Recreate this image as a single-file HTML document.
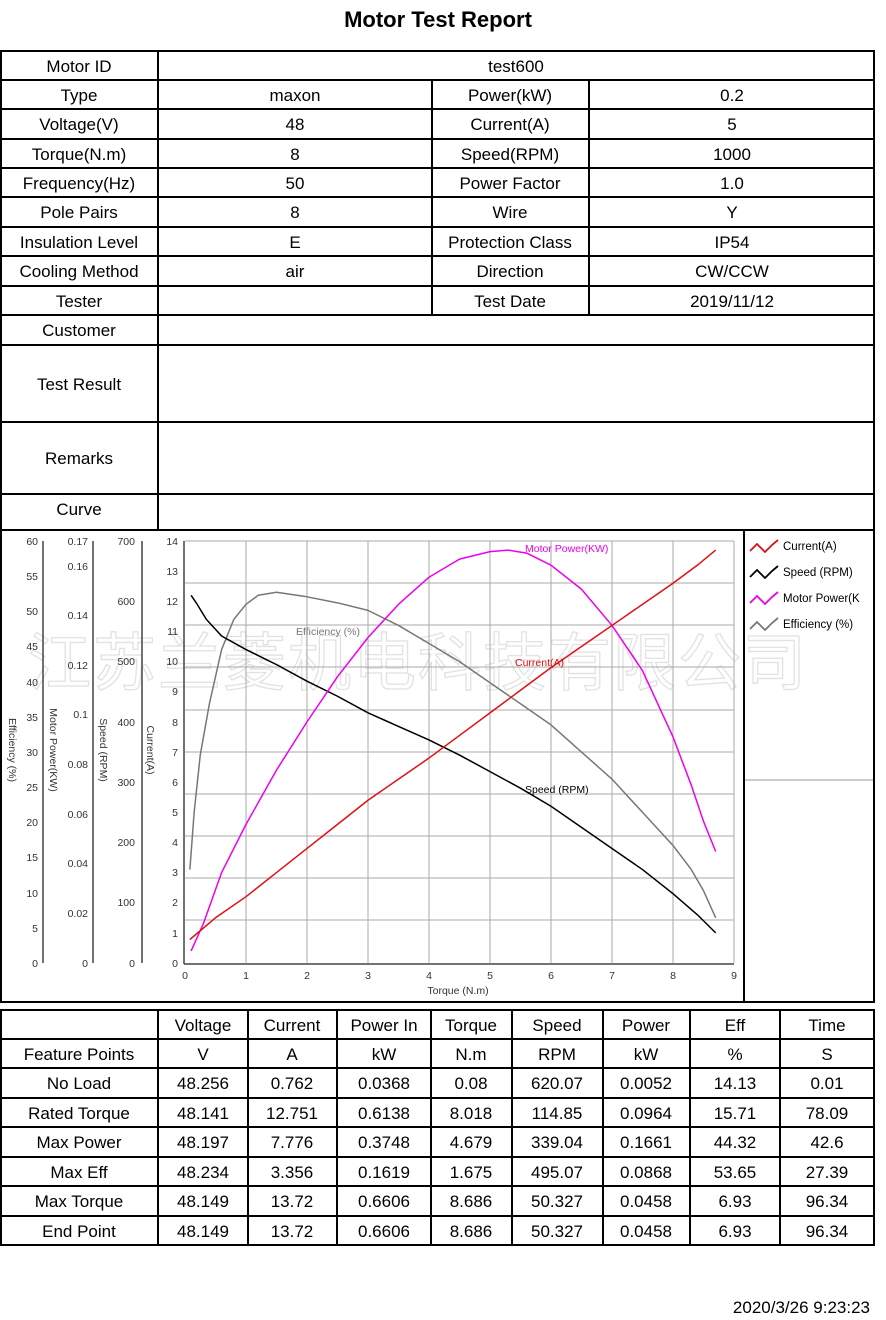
<!DOCTYPE html>
<html><head><meta charset="utf-8"><style>
body{margin:0;width:886px;height:1320px;background:#fff;font-family:"Liberation Sans",sans-serif;position:relative;overflow:hidden}
.t{position:absolute;font-size:17px;color:#000;text-align:center;line-height:1}
</style></head><body>
<div class="t" style="left:0;width:876px;top:9px;font-size:22px;font-weight:bold">Motor Test Report</div>
<svg width="886" height="1320" style="position:absolute;left:0;top:0" font-family="Liberation Sans, sans-serif">
<g stroke="#000" stroke-width="2" fill="none">
<rect x="1" y="51" width="873" height="951"/>
<line x1="0" y1="80" x2="875" y2="80"/><line x1="0" y1="109" x2="875" y2="109"/><line x1="0" y1="139" x2="875" y2="139"/><line x1="0" y1="168" x2="875" y2="168"/><line x1="0" y1="197" x2="875" y2="197"/><line x1="0" y1="227" x2="875" y2="227"/><line x1="0" y1="256" x2="875" y2="256"/><line x1="0" y1="286" x2="875" y2="286"/><line x1="0" y1="315" x2="875" y2="315"/><line x1="0" y1="345" x2="875" y2="345"/><line x1="0" y1="422" x2="875" y2="422"/><line x1="0" y1="494" x2="875" y2="494"/><line x1="0" y1="530" x2="875" y2="530"/>
<line x1="158" y1="51" x2="158" y2="530"/><line x1="432" y1="80" x2="432" y2="315"/><line x1="589" y1="80" x2="589" y2="315"/>
<line x1="744" y1="530" x2="744" y2="1002"/>
<rect x="1" y="1010" width="873" height="235"/>
<line x1="0" y1="1039" x2="875" y2="1039"/><line x1="0" y1="1068" x2="875" y2="1068"/><line x1="0" y1="1098" x2="875" y2="1098"/><line x1="0" y1="1127" x2="875" y2="1127"/><line x1="0" y1="1157" x2="875" y2="1157"/><line x1="0" y1="1186" x2="875" y2="1186"/><line x1="0" y1="1216" x2="875" y2="1216"/>
<line x1="158" y1="1010" x2="158" y2="1245"/><line x1="248" y1="1010" x2="248" y2="1245"/><line x1="337" y1="1010" x2="337" y2="1245"/><line x1="431" y1="1010" x2="431" y2="1245"/><line x1="512" y1="1010" x2="512" y2="1245"/><line x1="603" y1="1010" x2="603" y2="1245"/><line x1="690" y1="1010" x2="690" y2="1245"/><line x1="780" y1="1010" x2="780" y2="1245"/>
</g>
<line x1="745" y1="780" x2="874" y2="780" stroke="#999" stroke-width="1"/>
<g font-size="17" text-anchor="middle" fill="#000">
<text x="79" y="72">Motor ID</text><text x="516" y="72">test600</text>
<text x="79" y="101">Type</text><text x="295" y="101">maxon</text><text x="510" y="101">Power(kW)</text><text x="732" y="101">0.2</text>
<text x="79" y="130">Voltage(V)</text><text x="295" y="130">48</text><text x="510" y="130">Current(A)</text><text x="732" y="130">5</text>
<text x="79" y="160">Torque(N.m)</text><text x="295" y="160">8</text><text x="510" y="160">Speed(RPM)</text><text x="732" y="160">1000</text>
<text x="79" y="189">Frequency(Hz)</text><text x="295" y="189">50</text><text x="510" y="189">Power Factor</text><text x="732" y="189">1.0</text>
<text x="79" y="218">Pole Pairs</text><text x="295" y="218">8</text><text x="510" y="218">Wire</text><text x="732" y="218">Y</text>
<text x="79" y="248">Insulation Level</text><text x="295" y="248">E</text><text x="510" y="248">Protection Class</text><text x="732" y="248">IP54</text>
<text x="79" y="277">Cooling Method</text><text x="295" y="277">air</text><text x="510" y="277">Direction</text><text x="732" y="277">CW/CCW</text>
<text x="79" y="307">Tester</text><text x="510" y="307">Test Date</text><text x="732" y="307">2019/11/12</text>
<text x="79" y="336">Customer</text>
<text x="79" y="390">Test Result</text>
<text x="79" y="464">Remarks</text>
<text x="79" y="515">Curve</text>
<text x="203" y="1031">Voltage</text><text x="292" y="1031">Current</text><text x="384" y="1031">Power In</text><text x="471" y="1031">Torque</text><text x="557" y="1031">Speed</text><text x="646" y="1031">Power</text><text x="735" y="1031">Eff</text><text x="827" y="1031">Time</text>
<text x="79" y="1060">Feature Points</text><text x="203" y="1060">V</text><text x="292" y="1060">A</text><text x="384" y="1060">kW</text><text x="471" y="1060">N.m</text><text x="557" y="1060">RPM</text><text x="646" y="1060">kW</text><text x="735" y="1060">%</text><text x="827" y="1060">S</text>
<text x="79" y="1089">No Load</text><text x="203" y="1089">48.256</text><text x="292" y="1089">0.762</text><text x="384" y="1089">0.0368</text><text x="471" y="1089">0.08</text><text x="557" y="1089">620.07</text><text x="646" y="1089">0.0052</text><text x="735" y="1089">14.13</text><text x="827" y="1089">0.01</text>
<text x="79" y="1119">Rated Torque</text><text x="203" y="1119">48.141</text><text x="292" y="1119">12.751</text><text x="384" y="1119">0.6138</text><text x="471" y="1119">8.018</text><text x="557" y="1119">114.85</text><text x="646" y="1119">0.0964</text><text x="735" y="1119">15.71</text><text x="827" y="1119">78.09</text>
<text x="79" y="1148">Max Power</text><text x="203" y="1148">48.197</text><text x="292" y="1148">7.776</text><text x="384" y="1148">0.3748</text><text x="471" y="1148">4.679</text><text x="557" y="1148">339.04</text><text x="646" y="1148">0.1661</text><text x="735" y="1148">44.32</text><text x="827" y="1148">42.6</text>
<text x="79" y="1178">Max Eff</text><text x="203" y="1178">48.234</text><text x="292" y="1178">3.356</text><text x="384" y="1178">0.1619</text><text x="471" y="1178">1.675</text><text x="557" y="1178">495.07</text><text x="646" y="1178">0.0868</text><text x="735" y="1178">53.65</text><text x="827" y="1178">27.39</text>
<text x="79" y="1207">Max Torque</text><text x="203" y="1207">48.149</text><text x="292" y="1207">13.72</text><text x="384" y="1207">0.6606</text><text x="471" y="1207">8.686</text><text x="557" y="1207">50.327</text><text x="646" y="1207">0.0458</text><text x="735" y="1207">6.93</text><text x="827" y="1207">96.34</text>
<text x="79" y="1237">End Point</text><text x="203" y="1237">48.149</text><text x="292" y="1237">13.72</text><text x="384" y="1237">0.6606</text><text x="471" y="1237">8.686</text><text x="557" y="1237">50.327</text><text x="646" y="1237">0.0458</text><text x="735" y="1237">6.93</text><text x="827" y="1237">96.34</text>
</g>
<text x="870" y="1313" font-size="17" text-anchor="end">2020/3/26 9:23:23</text>

<!-- watermark -->
<text x="418" y="685" font-size="63" text-anchor="middle" fill="none" stroke="#e2e2e2" stroke-width="1.3" font-family="Noto Sans CJK SC, sans-serif" letter-spacing="2">江苏兰菱机电科技有限公司</text>

<!-- grid -->
<g stroke="#aaa" stroke-width="1">
<line x1="185" y1="541" x2="734" y2="541"/>
<line x1="185" y1="583" x2="734" y2="583"/><line x1="185" y1="625" x2="734" y2="625"/><line x1="185" y1="667" x2="734" y2="667"/><line x1="185" y1="710" x2="734" y2="710"/><line x1="185" y1="752" x2="734" y2="752"/><line x1="185" y1="794" x2="734" y2="794"/><line x1="185" y1="836" x2="734" y2="836"/><line x1="185" y1="878" x2="734" y2="878"/><line x1="185" y1="920" x2="734" y2="920"/>
<line x1="246" y1="541" x2="246" y2="963"/><line x1="307" y1="541" x2="307" y2="963"/><line x1="368" y1="541" x2="368" y2="963"/><line x1="429" y1="541" x2="429" y2="963"/><line x1="490" y1="541" x2="490" y2="963"/><line x1="551" y1="541" x2="551" y2="963"/><line x1="612" y1="541" x2="612" y2="963"/><line x1="673" y1="541" x2="673" y2="963"/><line x1="734" y1="541" x2="734" y2="963"/>
</g>
<!-- axes -->
<g stroke="#444" stroke-width="1.5" fill="none">
<line x1="184" y1="541" x2="184" y2="964"/><line x1="184" y1="964" x2="734" y2="964"/>
<line x1="43" y1="541" x2="43" y2="963"/><line x1="93" y1="541" x2="93" y2="963"/><line x1="142" y1="541" x2="142" y2="963"/>
</g>
<g font-size="10.5" fill="#333" text-anchor="end">
<text x="38" y="545">60</text><text x="38" y="580">55</text><text x="38" y="615">50</text><text x="38" y="650">45</text><text x="38" y="686">40</text><text x="38" y="721">35</text><text x="38" y="756">30</text><text x="38" y="791">25</text><text x="38" y="826">20</text><text x="38" y="861">15</text><text x="38" y="897">10</text><text x="38" y="932">5</text><text x="38" y="967">0</text>
<text x="88" y="545">0.17</text><text x="88" y="570">0.16</text><text x="88" y="619">0.14</text><text x="88" y="669">0.12</text><text x="88" y="718">0.1</text><text x="88" y="768">0.08</text><text x="88" y="818">0.06</text><text x="88" y="867">0.04</text><text x="88" y="917">0.02</text><text x="88" y="967">0</text>
<text x="135" y="545">700</text><text x="135" y="605">600</text><text x="135" y="665">500</text><text x="135" y="726">400</text><text x="135" y="786">300</text><text x="135" y="846">200</text><text x="135" y="906">100</text><text x="135" y="967">0</text>
<text x="178" y="545">14</text><text x="178" y="575">13</text><text x="178" y="605">12</text><text x="178" y="635">11</text><text x="178" y="665">10</text><text x="178" y="695">9</text><text x="178" y="726">8</text><text x="178" y="756">7</text><text x="178" y="786">6</text><text x="178" y="816">5</text><text x="178" y="846">4</text><text x="178" y="876">3</text><text x="178" y="906">2</text><text x="178" y="937">1</text><text x="178" y="967">0</text>
</g>
<g font-size="10.5" fill="#333" text-anchor="middle">
<text x="185" y="979">0</text><text x="246" y="979">1</text><text x="307" y="979">2</text><text x="368" y="979">3</text><text x="429" y="979">4</text><text x="490" y="979">5</text><text x="551" y="979">6</text><text x="612" y="979">7</text><text x="673" y="979">8</text><text x="734" y="979">9</text>
<text x="458" y="994">Torque (N.m)</text>
<text transform="translate(9,750) rotate(90)">Efficiency (%)</text>
<text transform="translate(50,750) rotate(90)">Motor Power(KW)</text>
<text transform="translate(100,750) rotate(90)">Speed (RPM)</text>
<text transform="translate(147,750) rotate(90)">Current(A)</text>
</g>
<!-- series -->
<g transform="translate(185,963) scale(61,-30.14)" fill="none" stroke-width="1.5" stroke-linejoin="round">
<polyline vector-effect="non-scaling-stroke" stroke="#777" points="0.08,3.1 0.15,5 0.25,6.9 0.4,8.6 0.6,10.4 0.8,11.4 1,11.9 1.2,12.2 1.5,12.3 2,12.15 2.5,11.95 3,11.7 3.5,11.2 4,10.6 4.5,10 5,9.3 5.5,8.6 6,7.9 6.5,7 7,6.1 7.5,5 8,3.9 8.3,3.1 8.5,2.4 8.7,1.5"/>
<polyline vector-effect="non-scaling-stroke" stroke="#000" points="0.1,12.2 0.2,11.9 0.35,11.4 0.6,10.85 1,10.4 1.5,9.9 2,9.35 2.5,8.85 3,8.3 3.5,7.85 4,7.4 4.5,6.9 5,6.35 5.5,5.8 6,5.2 6.5,4.5 7,3.8 7.5,3.1 8,2.3 8.4,1.6 8.7,1.0"/>
<polyline vector-effect="non-scaling-stroke" stroke="#e0e" points="0.1,0.4 0.3,1.3 0.6,3 1,4.6 1.5,6.4 2,8 2.5,9.5 3,10.8 3.5,11.9 4,12.8 4.5,13.4 5,13.65 5.3,13.7 5.6,13.6 6,13.2 6.5,12.4 7,11.2 7.5,9.7 8,7.5 8.3,5.9 8.5,4.7 8.7,3.7"/>
<polyline vector-effect="non-scaling-stroke" stroke="#e01010" points="0.08,0.78 0.5,1.5 1,2.2 1.5,3 2,3.8 2.5,4.6 3,5.4 3.5,6.1 4,6.8 4.5,7.55 5,8.3 5.5,9.05 6,9.8 6.5,10.5 7,11.2 7.5,11.9 8,12.6 8.4,13.2 8.7,13.7"/>
</g>
<g font-size="10.5">
<text x="525" y="552" fill="#e0e">Motor Power(KW)</text>
<text x="296" y="635" fill="#777">Efficiency (%)</text>
<text x="515" y="666" fill="#e01010">Current(A)</text>
<text x="525" y="793" fill="#000">Speed (RPM)</text>
</g>
<!-- legend -->
<g fill="none" stroke-width="1.8">
<polyline points="750,551 757,544 765,552 772,545 778,540" stroke="#e01010"/>
<polyline points="750,577 757,570 765,578 772,571 778,566" stroke="#000"/>
<polyline points="750,603 757,596 765,604 772,597 778,592" stroke="#e0e"/>
<polyline points="750,629 757,622 765,630 772,623 778,618" stroke="#777"/>
</g>
<g font-size="11.5" fill="#000">
<text x="783" y="550">Current(A)</text><text x="783" y="576">Speed (RPM)</text><text x="783" y="602">Motor Power(K</text><text x="783" y="628">Efficiency (%)</text>
</g>
<rect x="873" y="530" width="2" height="472" fill="#000"/>
</svg>
</body></html>
